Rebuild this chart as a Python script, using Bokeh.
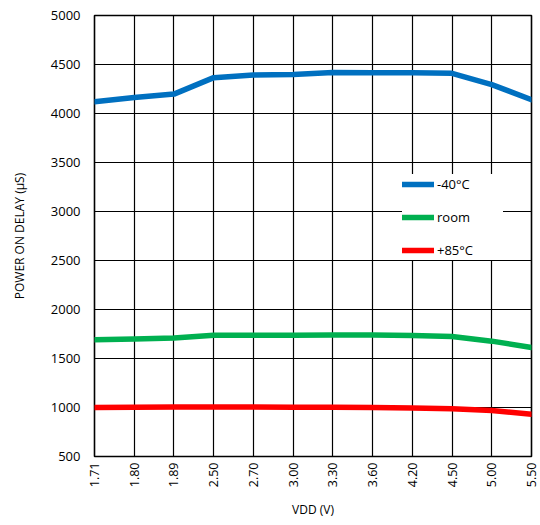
import math
from bokeh.plotting import figure
from bokeh.models import FixedTicker, Range1d, Legend, LegendItem
from bokeh.embed import file_html
from bokeh.resources import INLINE

vdd_labels = ["1.71", "1.80", "1.89", "2.50", "2.70", "3.00", "3.30", "3.60", "4.20", "4.50", "5.00", "5.50"]
delay_m40 = [4120, 4163, 4198, 4366, 4392, 4398, 4418, 4417, 4416, 4410, 4295, 4140]
delay_room = [1692, 1700, 1710, 1738, 1736, 1738, 1740, 1741, 1735, 1725, 1677, 1613]
delay_p85 = [1000, 1002, 1004, 1006, 1004, 1003, 1002, 1000, 996, 988, 970, 930]
y_ticks = [500, 1000, 1500, 2000, 2500, 3000, 3500, 4000, 4500, 5000]
series_names = ["-40°C", "room", "+85°C"]
series_colors = ["#0070C0", "#00B050", "#FF0000"]

x_idx = list(range(len(vdd_labels)))
FONT = "Open Sans"

p = figure(width=540, height=523, output_backend="svg", toolbar_location=None,
           x_range=Range1d(0, len(vdd_labels) - 1), y_range=Range1d(500, 5000),
           min_border_left=94, min_border_right=9, min_border_top=15, min_border_bottom=67)

p.xaxis.ticker = FixedTicker(ticks=x_idx)
p.xaxis.major_label_overrides = {i: s for i, s in enumerate(vdd_labels)}
p.xaxis.major_label_orientation = math.pi / 2
p.yaxis.ticker = FixedTicker(ticks=y_ticks)
p.xgrid.ticker = FixedTicker(ticks=x_idx)
p.ygrid.ticker = FixedTicker(ticks=y_ticks)

for ax in (p.xaxis[0], p.yaxis[0]):
    ax.axis_line_color = None
    ax.major_tick_line_color = None
    ax.minor_tick_line_color = None
    ax.major_tick_out = 0
    ax.major_tick_in = 0
    ax.minor_tick_out = 0
    ax.minor_tick_in = 0
    ax.major_label_text_font = FONT
    ax.major_label_text_font_size = "13px"
    ax.major_label_text_color = "#000000"
    ax.axis_label_text_font = FONT
    ax.axis_label_text_font_size = "12px"
    ax.axis_label_text_font_style = "normal"
    ax.axis_label_text_color = "#000000"

p.xaxis.major_label_text_font_size = "12.5px"
p.xaxis.major_label_standoff = 6
p.yaxis.major_label_standoff = 14
p.xaxis.axis_label = "VDD (V)"
p.yaxis.axis_label = "POWER ON DELAY (μS)"
p.xaxis.axis_label_standoff = 11
p.yaxis.axis_label_standoff = 20

for g in (p.xgrid[0], p.ygrid[0]):
    g.grid_line_color = "#000000"
    g.grid_line_width = 1.2

p.outline_line_color = "#000000"
p.outline_line_width = 1.6
p.background_fill_color = "#ffffff"
p.border_fill_color = "#ffffff"

renderers = []
for vals, col in zip([delay_m40, delay_room, delay_p85], series_colors):
    r = p.line(x_idx, vals, line_color=col, line_width=5.5, line_join="round", line_cap="round")
    renderers.append(r)

legend = Legend(items=[LegendItem(label=n, renderers=[r]) for n, r in zip(series_names, renderers)],
                location=(308, 196), orientation="vertical")
legend.padding = 7
legend.spacing = 13
legend.glyph_height = 20
legend.glyph_width = 32
legend.label_standoff = 3
legend.label_width = 66
legend.label_text_font = FONT
legend.label_text_font_size = "13px"
legend.label_text_color = "#000000"
legend.border_line_color = None
legend.background_fill_color = "#ffffff"
legend.background_fill_alpha = 1.0
legend.margin = 0
p.add_layout(legend, "center")

open("out.html", "w").write(file_html(p, INLINE))
